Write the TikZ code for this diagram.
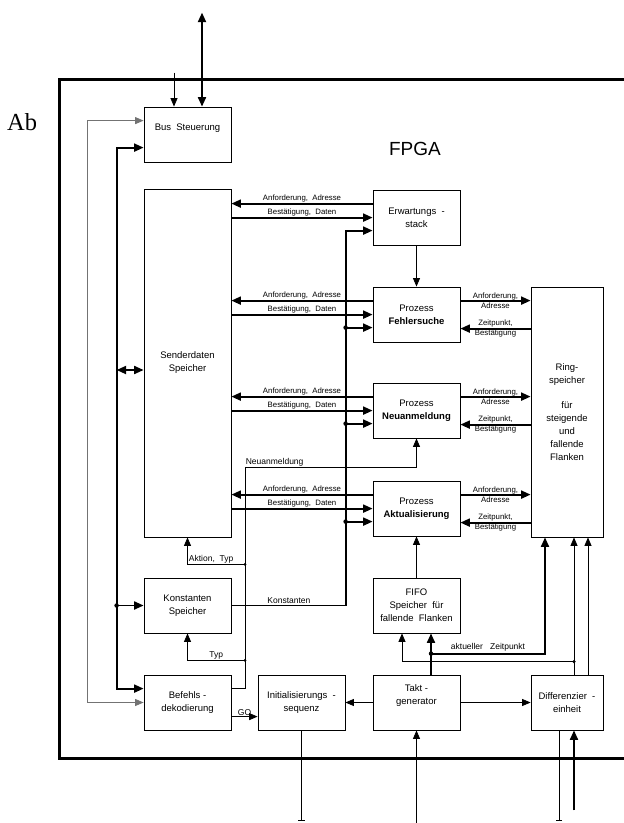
\documentclass[tikz,border=0pt]{standalone}
\usepackage{fontspec}
\setmainfont{Liberation Sans}
\newfontfamily\abfont{Liberation Serif}
\usetikzlibrary{arrows.meta}
\definecolor{busgray}{gray}{0.45}

\tikzset{
  block/.style={draw, line width=0.8pt, minimum width=87pt, minimum height=55pt, inner sep=1pt, align=center, font=\fontsize{9.5}{13}\selectfont},
  lbl/.style={font=\fontsize{7.8}{9.8}\selectfont, inner sep=1pt, align=center},
  txt/.style={font=\fontsize{8.5}{10}\selectfont, inner sep=1pt},
  sig/.style={line width=0.8pt},
  busline/.style={line width=1.9pt, >={Triangle[length=9.5pt,width=8pt]}},
  dot/.style={circle, fill, inner sep=0pt, minimum size=3.5pt},
}

\begin{document}
\begin{tikzpicture}[x=1pt,y=-1pt,>={Triangle[length=8.5pt,width=7pt]},line join=miter]
\useasboundingbox (0,0) rectangle (624,823);
\begin{scope}
\clip (0,0) rectangle (35,823);
\node[font=\abfont\fontsize{24.5}{24.5}\selectfont, anchor=base west, inner sep=0pt] (ab) at (7,130) {Ab};
\end{scope}
% FPGA frame
\draw[line width=3pt] (59,79) rectangle (660,758);
\node[font=\fontsize{19}{19}\selectfont] (fpga) at (415,149) {FPGA};

% blocks
\node[block, text depth=15pt] (busst) at (187.5,134.5) {Bus\ \ Steuerung};
\node[block, minimum height=348pt] (sender) at (187.5,363) {Senderdaten\\Speicher};
\node[block] (erw) at (416.5,217.5) {Erwartungs\ \ -\\stack};
\node[block] (fehl) at (416.5,314.5) {Prozess\\\textbf{Fehlersuche}};
\node[block] (neu) at (416.5,410.5) {Prozess\\\textbf{Neuanmeldung}};
\node[block] (akt) at (416.5,508.5) {Prozess\\\textbf{Aktualisierung}};
\node[block, minimum width=72pt, minimum height=250pt] (ring) at (567,412) {Ring-\\speicher\\[12pt]für\\steigende\\und\\fallende\\Flanken};
\node[block] (konst) at (187.5,605.5) {Konstanten\\Speicher};
\node[block] (fifo) at (416.5,605.5) {FIFO\\Speicher\ \ für\\fallende\ \ Flanken};
\node[block] (befehl) at (187.5,702.5) {Befehls -\\dekodierung};
\node[block] (init) at (301.5,702.5) {Initialisierungs\ \ -\\sequenz};
\node[block, label={[align=center, font=\fontsize{9.5}{13}\selectfont, yshift=7pt]center:{Takt -\\generator}}] (takt) at (416.5,702.5) {};
\node[block, minimum width=72pt] (diff) at (567,702.5) {Differenzier\ \ -\\einheit};

% bus
\draw[sig, draw=busgray, <->] ([yshift=-14pt]busst.north west) -- ++(-56,0) |- (befehl.west);
\draw[busline, <->] ([yshift=-41pt]busst.north west) -- ++(-27,0) |- ([yshift=-14pt]befehl.north west);
\draw[busline, <->] ([xshift=-27pt,yshift=-7pt]sender.west) -- ([yshift=-7pt]sender.west);
\draw[busline, ->] ([xshift=-27pt]konst.west) node[dot, minimum size=4.5pt] (dk) {} -- (konst.west);
\draw[sig, ->] ([xshift=-13.5pt,yshift=34pt]busst.north) -- ([xshift=-13.5pt]busst.north);
\draw[busline, <->] ([xshift=14.5pt,yshift=94pt]busst.north) -- ([xshift=14.5pt]busst.north);

% Senderdaten <-> Prozesse
\draw[busline, ->] ([yshift=-14pt]erw.north west) -- ([yshift=-14pt]erw.north west -| sender.east) node[midway, above, lbl] {Anforderung,\ \ Adresse};
\draw[busline, ->] ([yshift=-28pt]erw.north west -| sender.east) -- ([yshift=-28pt]erw.north west) node[midway, above, lbl] {Bestätigung,\ \ Daten};
\draw[busline, ->] ([yshift=-14pt]fehl.north west) -- ([yshift=-14pt]fehl.north west -| sender.east) node[midway, above, lbl] {Anforderung,\ \ Adresse};
\draw[busline, ->] ([yshift=-28pt]fehl.north west -| sender.east) -- ([yshift=-28pt]fehl.north west) node[midway, above, lbl] {Bestätigung,\ \ Daten};
\draw[busline, ->] ([yshift=-14pt]neu.north west) -- ([yshift=-14pt]neu.north west -| sender.east) node[midway, above, lbl] {Anforderung,\ \ Adresse};
\draw[busline, ->] ([yshift=-28pt]neu.north west -| sender.east) -- ([yshift=-28pt]neu.north west) node[midway, above, lbl] {Bestätigung,\ \ Daten};
\draw[busline, ->] ([yshift=-14pt]akt.north west) -- ([yshift=-14pt]akt.north west -| sender.east) node[midway, above, lbl] {Anforderung,\ \ Adresse};
\draw[busline, ->] ([yshift=-28pt]akt.north west -| sender.east) -- ([yshift=-28pt]akt.north west) node[midway, above, lbl] {Bestätigung,\ \ Daten};

% Prozesse <-> Ringspeicher
\draw[busline, ->] ([yshift=-14pt]fehl.north east) -- ([yshift=-14pt]fehl.north east -| ring.west) node[midway, lbl] {Anforderung,\\Adresse};
\draw[busline, ->] ([yshift=-42pt]fehl.north east -| ring.west) -- ([yshift=-42pt]fehl.north east) node[midway, lbl] {Zeitpunkt,\\Bestätigung};
\draw[busline, ->] ([yshift=-14pt]neu.north east) -- ([yshift=-14pt]neu.north east -| ring.west) node[midway, lbl] {Anforderung,\\Adresse};
\draw[busline, ->] ([yshift=-42pt]neu.north east -| ring.west) -- ([yshift=-42pt]neu.north east) node[midway, lbl] {Zeitpunkt,\\Bestätigung};
\draw[busline, ->] ([yshift=-14pt]akt.north east) -- ([yshift=-14pt]akt.north east -| ring.west) node[midway, lbl] {Anforderung,\\Adresse};
\draw[busline, ->] ([yshift=-42pt]akt.north east -| ring.west) -- ([yshift=-42pt]akt.north east) node[midway, lbl] {Zeitpunkt,\\Bestätigung};

% Konstanten
\draw[busline, ->] (konst.east) -- node[above, txt] {Konstanten} ++(115,0) |- ([yshift=-41pt]erw.north west);
\draw[busline, ->] ([xshift=-27pt,yshift=-41pt]fehl.north west) node[dot, minimum size=4.5pt] (df) {} -- ([yshift=-41pt]fehl.north west);
\draw[busline, ->] ([xshift=-27pt,yshift=-41pt]neu.north west) node[dot, minimum size=4.5pt] (dn) {} -- ([yshift=-41pt]neu.north west);
\draw[busline, ->] ([xshift=-27pt,yshift=-41pt]akt.north west) node[dot, minimum size=4.5pt] (dakt) {} -- ([yshift=-41pt]akt.north west);

% Befehlsdekodierung
\draw[sig, ->] ([yshift=-14pt]befehl.north east) -- ++(14,0) |- node[pos=0.5, above right, txt, inner xsep=0pt] {Neuanmeldung} ([yshift=-29pt]neu.south) -- (neu.south);
\draw[sig, ->] ([xshift=57.5pt,yshift=-27pt]sender.south) node[dot, minimum size=3pt] (da) {} -| node[pos=0.5, above right, txt] {Aktion,\ \ Typ} (sender.south);
\draw[sig, ->] ([xshift=57.5pt,yshift=-27pt]konst.south) node[dot, minimum size=3pt] (dt) {} -| node[pos=0.25, above, txt] {Typ} (konst.south);
\draw[sig, ->] ([yshift=-42pt]befehl.north east) -- ([yshift=-42pt]befehl.north east -| init.west) node[midway, above, txt] {GO};

% Takt, FIFO, Differenzierer
\draw[sig, ->] (erw.south) -- (fehl.north);
\draw[sig, ->] (fifo.north) -- (akt.south);
\draw[sig, ->] (takt.west) -- (init.east);
\draw[sig, ->] (takt.east) -- (diff.west);
\draw[busline, ->] ([xshift=14.5pt]takt.north) -- ([xshift=14.5pt]fifo.south);
\draw[busline, ->] ([xshift=14.5pt,yshift=21pt]takt.north) node[dot, minimum size=4.5pt] (dz) {} -| node[pos=0.25, above, txt] {aktueller\ \ \ Zeitpunkt} ([xshift=-22pt]ring.south);
\draw[sig, ->] ([xshift=7pt,yshift=13pt]diff.north) node[dot] (dd) {} -| ([xshift=-14.5pt]fifo.south);
\draw[sig, ->] ([xshift=7pt]diff.north) -- ([xshift=7pt]ring.south);
\draw[sig, ->] ([xshift=21pt]diff.north) -- ([xshift=21pt]ring.south);

% Anschluesse unten
\draw[sig, -|] (init.south) -- ++(0,90);
\draw[sig, ->] ([yshift=-93pt]takt.south) -- (takt.south);
\draw[sig, -|] ([xshift=-8pt]diff.south) -- ++(0,90);
\draw[busline, ->] ([xshift=7pt,yshift=-80pt]diff.south) -- ([xshift=7pt]diff.south);
\end{tikzpicture}
\end{document}
